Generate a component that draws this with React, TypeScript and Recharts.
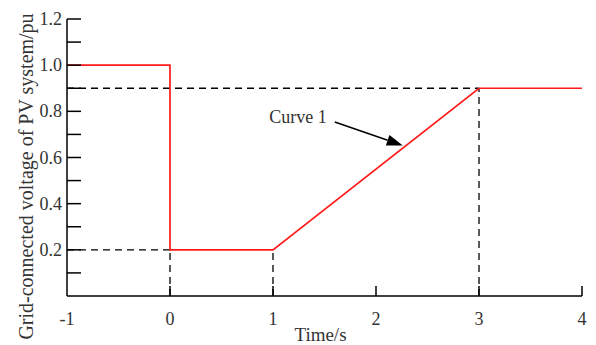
import { LineChart, Line, XAxis, YAxis, ReferenceLine } from 'recharts';

// Curve 1 (red step + ramp)
const curveTime = [-1, 0, 0, 1, 3, 4];
const curveVolt = [1.0, 1.0, 0.2, 0.2, 0.9, 0.9];

const xTicks = [-1, 0, 1, 2, 3, 4];
const yTicks = [0, 0.1, 0.2, 0.3, 0.4, 0.5, 0.6, 0.7, 0.8, 0.9, 1.0, 1.1, 1.2];
const yLabeled = [0.2, 0.4, 0.6, 0.8, 1.0, 1.2];

// dashed guide lines [x1, y1, x2, y2]
const guides = [
  [-1, 0.9, 3, 0.9],
  [3, 0, 3, 0.9],
  [-1, 0.2, 0, 0.2],
  [0, 0, 0, 0.2],
  [1, 0, 1, 0.2],
];

// arrow pointing to curve 1
const arrowFrom = { x: 1.6, y: 0.754 };
const arrowTo = { x: 2.26, y: 0.652 };

const data = curveTime.map((t, i) => ({ t, v: curveVolt[i] }));

const FONT = '"Liberation Serif", "Times New Roman", serif';

const YTick = ({ x, y, payload }: any) => {
  const v = payload.value;
  if (v === 0) return null;
  const labeled = yLabeled.some(l => Math.abs(l - v) < 1e-6);
  return (
    <g>
      <line x1={x} y1={y} x2={x + 14} y2={y} stroke="#000" strokeWidth={1.5} />
      {labeled && (
        <text x={x - 5} y={y} textAnchor="end" dominantBaseline="central" fontSize={18} fontFamily={FONT} fill="#333">
          {v.toFixed(1)}
        </text>
      )}
    </g>
  );
};

const XTick = ({ x, y, payload }: any) => (
  <g>
    {payload.value !== -1 && <line x1={x} y1={y} x2={x} y2={y - 10} stroke="#000" strokeWidth={1.5} />}
    <text x={x} y={y + 23} textAnchor="middle" dominantBaseline="central" fontSize={18} fontFamily={FONT} fill="#333">
      {payload.value}
    </text>
  </g>
);

const YTitle = ({ viewBox }: any) => {
  const cx = (viewBox?.x ?? 0) + 26;
  const cy = (viewBox?.y ?? 19) + (viewBox?.height ?? 277) / 2 + 19;
  return (
    <text x={cx} y={cy} transform={`rotate(-90, ${cx}, ${cy})`} textAnchor="middle" dominantBaseline="central" fontSize={20} fontFamily={FONT} fill="#333">
      Grid-connected voltage of PV system/pu
    </text>
  );
};

const XTitle = ({ viewBox }: any) => {
  const cx = (viewBox?.x ?? 67) + (viewBox?.width ?? 515) / 2 - 4;
  const cy = (viewBox?.y ?? 296) + 38;
  return (
    <text x={cx} y={cy} textAnchor="middle" dominantBaseline="central" fontSize={19} fontFamily={FONT} fill="#333">
      Time/s
    </text>
  );
};

const Arrow = (props: any) => {
  const { x1, y1, x2, y2 } = props;
  const ang = Math.atan2(y2 - y1, x2 - x1);
  const len = 16;
  const hw = 5.5;
  const bx = x2 - len * Math.cos(ang);
  const by = y2 - len * Math.sin(ang);
  const px = -Math.sin(ang) * hw;
  const py = Math.cos(ang) * hw;
  return (
    <g>
      <line x1={x1} y1={y1} x2={bx} y2={by} stroke="#000" strokeWidth={1.5} />
      <polygon points={`${x2},${y2} ${bx + px},${by + py} ${bx - px},${by - py}`} fill="#000" />
      <text x={x1 - 8} y={y1 + 1} textAnchor="end" fontSize={18} fontFamily={FONT} fill="#333">
        Curve 1
      </text>
    </g>
  );
};

export default function App() {
  return (
    <div style={{ position: 'absolute', left: 0, top: 0, background: '#fff' }}>
      <LineChart width={596} height={345} data={data} margin={{ top: 19, right: 14, bottom: 0, left: 0 }}>
        <XAxis
          dataKey="t"
          type="number"
          domain={[-1, 4]}
          ticks={xTicks}
          height={49}
          tickSize={0}
          tickMargin={0}
          tickLine={false}
          tick={<XTick />}
          axisLine={{ stroke: '#000', strokeWidth: 1.5 }}
          label={{ value: 'Time/s', content: <XTitle /> }}
        />
        <YAxis
          type="number"
          domain={[0, 1.2]}
          ticks={yTicks}
          width={67}
          tickSize={0}
          tickMargin={0}
          tickLine={false}
          tick={<YTick />}
          interval={0}
          axisLine={{ stroke: '#000', strokeWidth: 1.5 }}
          label={{ value: 'Grid-connected voltage of PV system/pu', content: <YTitle /> }}
        />
        {guides.map((g, i) => (
          <ReferenceLine
            key={i}
            segment={[{ x: g[0], y: g[1] }, { x: g[2], y: g[3] }]}
            stroke="#000"
            strokeWidth={1.3}
            strokeDasharray="7 5"
          />
        ))}
        <Line
          dataKey="v"
          type="linear"
          stroke="#ff1a1a"
          strokeWidth={1.7}
          dot={false}
          isAnimationActive={false}
        />
        <ReferenceLine segment={[arrowFrom, arrowTo]} shape={<Arrow />} />
      </LineChart>
    </div>
  );
}
